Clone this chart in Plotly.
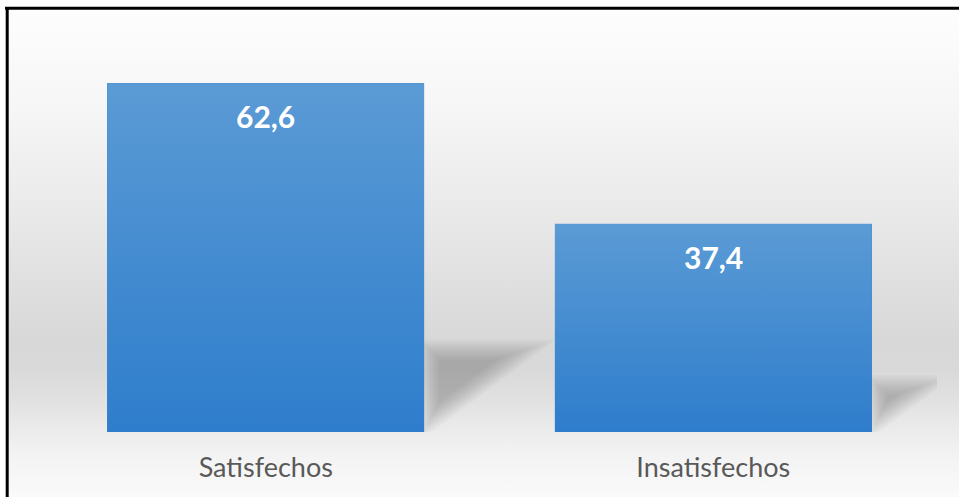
import math
import plotly.graph_objects as go

# ---- data ----
categories = ["Satisfechos", "Insatisfechos"]
values = [62.6, 37.4]
value_labels = ["62,6", "37,4"]

# ---- page geometry (pixels) ----
W, H = 959, 497
PX_LEFT, PX_RIGHT = 42, 937          # horizontal extent of the category axis [-0.5, 1.5]
PX_FLOOR = 432                        # pixel row of value 0
PX_PER_UNIT = 5.57                    # vertical pixels per value unit
Y_MAX = 70
BAR_WIDTH = 0.708

px_top = PX_FLOOR - Y_MAX * PX_PER_UNIT
px_per_cat = (PX_RIGHT - PX_LEFT) / 2.0

BAR_BOTTOM = "#2e7dcc"
BAR_TOP = "#5b9bd5"
LABEL_GRAY = "#595959"
FONT = "Lato, 'Open Sans', sans-serif"


def px_to_data(px, up):
    """Convert a pixel x and a height above the floor (px) to chart data coords."""
    return (px - PX_LEFT) / px_per_cat - 0.5, up / PX_PER_UNIT


def offset_polygon(pts, d):
    """Offset a counter-clockwise convex polygon inward by d pixels (negative grows)."""
    n = len(pts)
    lines = []
    for i in range(n):
        x1, y1 = pts[i]
        x2, y2 = pts[(i + 1) % n]
        dx, dy = x2 - x1, y2 - y1
        L = math.hypot(dx, dy)
        nx, ny = -dy / L, dx / L
        lines.append(((x1 + nx * d, y1 + ny * d), (dx, dy)))
    out = []
    for i in range(n):
        (p1, d1), (p2, d2) = lines[i - 1], lines[i]
        det = d1[0] * (-d2[1]) - d1[1] * (-d2[0])
        rx, ry = p2[0] - p1[0], p2[1] - p1[1]
        t = (rx * (-d2[1]) - ry * (-d2[0])) / det
        out.append((p1[0] + t * d1[0], p1[1] + t * d1[1]))
    return out


fig = go.Figure()

# ---- backdrop: vertical gray gradient inside the frame (pixel axes x/y) ----
bg_stops = [  # (pixel row, gray level)
    (10, 253), (100, 247), (200, 235), (280, 224), (340, 216),
    (370, 217), (400, 225), (432, 236), (460, 244), (497, 250),
]
bg_top_px = 10
span = H - bg_top_px
scale = sorted(((H - py) / span, f"rgb({g},{g},{g})") for py, g in bg_stops)
fig.add_trace(go.Scatter(
    x=[8, W, W, 8, 8], y=[0, 0, span, span, 0],
    fill="toself", mode="none",
    fillgradient=dict(type="vertical", colorscale=[[round(t, 4), c] for t, c in scale]),
    hoverinfo="skip", showlegend=False, xaxis="x", yaxis="y",
))

# ---- soft floor shadows cast to the right of each bar ----
for i, v in enumerate(values):
    bar_h = v * PX_PER_UNIT
    right_px = PX_LEFT + (i + 0.5) * px_per_cat + BAR_WIDTH / 2 * px_per_cat
    sh_h = 0.25 * bar_h
    sh_w = 0.335 * bar_h
    tri = [(right_px, 0.0), (right_px + sh_w, sh_h), (right_px, sh_h)]
    n_layers = 14
    for k in range(n_layers):
        d = -5 + 20 * k / (n_layers - 1)
        poly = offset_polygon(tri, d)
        poly.append(poly[0])
        xs, ys = zip(*[px_to_data(px, up) for px, up in poly])
        fig.add_trace(go.Scatter(
            x=list(xs), y=list(ys), fill="toself", mode="none",
            fillcolor="rgba(0,0,0,0.015)", hoverinfo="skip", showlegend=False,
            xaxis="x2", yaxis="y2",
        ))

# ---- bars ----
fig.add_trace(go.Bar(
    x=list(range(len(categories))), y=values, width=BAR_WIDTH,
    marker=dict(color="#4489d2", line=dict(width=0)),
    hovertext=categories, hoverinfo="text+y", showlegend=False,
    xaxis="x2", yaxis="y2",
))
# vertical colour gradient laid over each bar body
for i, v in enumerate(values):
    x0, x1 = i - BAR_WIDTH / 2, i + BAR_WIDTH / 2
    fig.add_trace(go.Scatter(
        x=[x0, x1, x1, x0, x0], y=[0, 0, v, v, 0],
        fill="toself", mode="none",
        fillgradient=dict(type="vertical", colorscale=[[0, BAR_BOTTOM], [1, BAR_TOP]]),
        hoverinfo="skip", showlegend=False, xaxis="x2", yaxis="y2",
    ))

# ---- value labels near the top of each bar ----
for i, (v, lab) in enumerate(zip(values, value_labels)):
    fig.add_annotation(
        x=i, y=v, xref="x2", yref="y2", text=f"<b>{lab}</b>", showarrow=False,
        yanchor="middle", yshift=-33,
        font=dict(family=FONT, size=30, color="white"),
    )

# ---- frame lines (top and left) ----
fig.add_shape(type="line", xref="x", yref="y", x0=5, x1=W, y0=H - 8.3, y1=H - 8.3,
              line=dict(color="black", width=3))
fig.add_shape(type="line", xref="x", yref="y", x0=7.2, x1=7.2, y0=H - 7, y1=0,
              line=dict(color="black", width=3))

fig.update_layout(
    width=W, height=H,
    margin=dict(l=0, r=0, t=0, b=0),
    paper_bgcolor="white", plot_bgcolor="rgba(0,0,0,0)",
    showlegend=False, bargap=0,
    xaxis=dict(domain=[0, 1], range=[0, W], visible=False, fixedrange=True),
    yaxis=dict(domain=[0, 1], range=[0, H], visible=False, fixedrange=True),
    xaxis2=dict(
        domain=[PX_LEFT / W, PX_RIGHT / W], range=[-0.5, 1.5], anchor="y2",
        tickmode="array", tickvals=list(range(len(categories))), ticktext=categories,
        tickfont=dict(family=FONT, size=27, color=LABEL_GRAY),
        ticks="outside", ticklen=12, tickcolor="rgba(0,0,0,0)",
        showgrid=False, zeroline=False, showline=False, fixedrange=True,
    ),
    yaxis2=dict(
        domain=[(H - PX_FLOOR) / H, (H - px_top) / H], range=[0, Y_MAX], anchor="x2",
        visible=False, fixedrange=True,
    ),
)

fig.write_html("out.html")
